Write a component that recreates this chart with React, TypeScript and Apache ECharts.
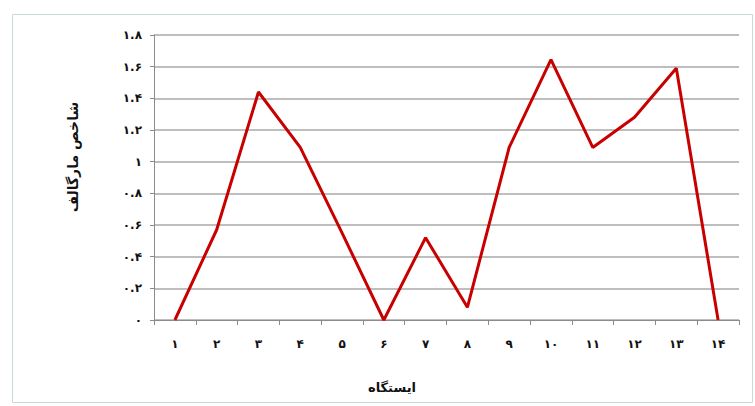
import React, { useEffect, useRef } from "react";
import * as echarts from "echarts";

const stations = ["1", "2", "3", "4", "5", "6", "7", "8", "9", "10", "11", "12", "13", "14"];
const margalefValues = [0, 0.57, 1.44, 1.09, 0.55, 0, 0.52, 0.08, 1.09, 1.645, 1.09, 1.28, 1.59, 0];
const yAxisTitle = "شاخص مارگالف";
const xAxisTitle = "ایستگاه";

const faDigits = "۰۱۲۳۴۵۶۷۸۹";
const toFa = (s: string) => s.replace(/[0-9]/g, (d) => faDigits[Number(d)]);

export default function App() {
  const ref = useRef<HTMLDivElement>(null);
  useEffect(() => {
    if (!ref.current) return;
    const chart = echarts.init(ref.current, undefined, { renderer: "svg" });
    const font = "DejaVu Sans";
    chart.setOption({
      animation: false,
      backgroundColor: "#ffffff",
      grid: { left: 154, right: 16, top: 35, bottom: 86, containLabel: false },
      xAxis: {
        type: "category",
        data: stations,
        boundaryGap: true,
        axisLine: { lineStyle: { color: "#8c8c8c", width: 1 } },
        axisTick: { show: true, length: 5, alignWithLabel: false, lineStyle: { color: "#8c8c8c" } },
        axisLabel: {
          formatter: (v: string) => toFa(v),
          color: "#111",
          fontFamily: font,
          fontWeight: "bold",
          fontSize: 12,
          margin: 18,
        },
        splitLine: { show: false },
      },
      yAxis: {
        type: "value",
        min: 0,
        max: 1.8,
        interval: 0.2,
        axisLine: { show: true, lineStyle: { color: "#8c8c8c", width: 1 } },
        axisTick: { show: true, length: 4, lineStyle: { color: "#8c8c8c" } },
        axisLabel: {
          formatter: (v: number) => toFa(String(Math.round(v * 10) / 10)),
          color: "#111",
          fontFamily: font,
          fontWeight: "bold",
          fontSize: 12,
          margin: 12,
        },
        splitLine: { show: true, lineStyle: { color: "#a8a8a8", width: 1.5 } },
      },
      series: [
        {
          type: "line",
          data: margalefValues,
          symbol: "none",
          lineStyle: { color: "#c80000", width: 3 },
          itemStyle: { color: "#c80000" },
        },
      ],
      graphic: [
        {
          type: "rect",
          shape: { x: 12.5, y: 14.5, width: 740, height: 388 },
          style: { fill: "none", stroke: "#c9dadc", lineWidth: 1 },
          silent: true,
          z: -1,
        },
        {
          type: "text",
          x: 392,
          y: 387,
          style: {
            text: xAxisTitle,
            fontFamily: font,
            fontWeight: "bold",
            fontSize: 13,
            fill: "#111",
            align: "center",
            verticalAlign: "middle",
          },
        },
        {
          type: "text",
          x: 73,
          y: 157,
          rotation: Math.PI / 2,
          style: {
            text: yAxisTitle,
            fontFamily: font,
            fontWeight: "bold",
            fontSize: 14,
            fill: "#111",
            align: "center",
            verticalAlign: "middle",
          },
        },
      ],
    });
    return () => chart.dispose();
  }, []);
  return (
    <div
      ref={ref}
      style={{ position: "fixed", left: 0, top: 0, width: 755, height: 406, background: "#fff" }}
    />
  );
}
